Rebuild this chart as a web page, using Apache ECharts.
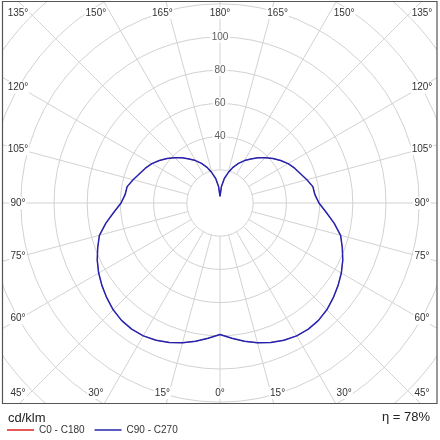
<!DOCTYPE html>
<html>
<head>
<meta charset="utf-8">
<script src="https://cdn.jsdelivr.net/npm/echarts@6/dist/echarts.min.js"></script>
<style>
html,body{margin:0;padding:0;background:#fff;}
#chart{width:440px;height:440px;}
</style>
</head>
<body>
<div id="chart"></div>
<script>
// Gamma angles (degrees from nadir) and luminous intensity (cd/klm)
const gammaAngles = [0,5,10,15,20,25,30,35,40,45,50,55,60,65,70,75,80,85,90,95,100,105,110,115,120,125,130,135,140,145,150,155,160,165,170,175,180];
const c90c270 = [79.2,81.8,84.6,87.2,89.4,91.2,92.4,92.8,92.3,91.0,89.0,86.8,84.4,81.6,78.4,75.2,69.8,64.2,59.6,57.4,56.8,54.2,51.6,49.6,47.4,44.6,41.7,38.6,35.5,32.4,29.5,26.3,22.9,18.8,15.0,10.0,4.0];
const c0c180  = [79.2,81.8,84.6,87.2,89.4,91.2,92.4,92.8,92.3,91.0,89.0,86.8,84.4,81.6,78.4,75.2,69.8,64.2,59.6,57.4,56.8,54.2,51.6,49.6,47.4,44.6,41.7,38.6,35.5,32.4,29.5,26.3,22.9,18.8,15.0,10.0,4.0];
const radiusTickLabels = [40,60,80,100];
const angleTickLabels = [-165,-150,-135,-120,-105,-90,-75,-60,-45,-30,-15,0,15,30,45,60,75,90,105,120,135,150,165,180];
const seriesNames = ['C0 - C180','C90 - C270'];
const unitText = 'cd/klm';
const etaText = '\u03b7 = 78%';

const CX = 220, CY = 203, PX_PER_UNIT = 1.66, R_MAX = 180;
const FONT = 'Liberation Sans, Arial, sans-serif';

function fullCurve(vals){
  const pts = [];
  for (let i = gammaAngles.length - 1; i >= 0; i--) pts.push([vals[i], -gammaAngles[i]]);
  for (let i = 1; i < gammaAngles.length; i++) pts.push([vals[i], gammaAngles[i]]);
  return pts;
}

const series = [];
// radial grid lines starting at the 20 circle
angleTickLabels.forEach(a => {
  series.push({
    type:'line', coordinateSystem:'polar', silent:true, symbol:'none', z:1,
    lineStyle:{color:'#d2d2d2', width:1}, data:[[20,a],[R_MAX,a]]
  });
});
series.push({
  name:seriesNames[0], type:'line', coordinateSystem:'polar', symbol:'none', z:3,
  color:'#dd2222', lineStyle:{color:'#dd2222', width:0.6}, data:fullCurve(c0c180)
});
series.push({
  name:seriesNames[1], type:'line', coordinateSystem:'polar', symbol:'none', z:4,
  color:'#2424b0', lineStyle:{color:'#2424b0', width:1.5}, data:fullCurve(c90c270)
});
series.push({
  type:'scatter', coordinateSystem:'polar', silent:true, z:5, symbolSize:1,
  itemStyle:{color:'rgba(0,0,0,0)'},
  label:{show:true, position:'inside', formatter:p => String(p.value[0]),
    color:'#333', fontFamily:FONT, fontSize:10, backgroundColor:'#fff', padding:[1,2]},
  data: radiusTickLabels.map(v => [v, 180])
});

function anglePos(a){
  const r = a*Math.PI/180, dx = Math.sin(r), dy = Math.cos(r);
  let x, y;
  if (Math.abs(dy) >= Math.abs(dx) - 1e-9) { y = dy > 0 ? 393 : 13; x = CX + dx/Math.abs(dy)*215; }
  else { x = dx > 0 ? 422 : 18; y = CY + dy/Math.abs(dx)*200; }
  x = Math.min(422, Math.max(18, x));
  y = Math.min(393, Math.max(13, y));
  return [x, y];
}

const graphic = [];
// white masks outside the frame
[[0,0,2.5,440],[437,0,3,440],[0,0,440,1.5],[0,403.5,440,36.5]].forEach(r => {
  graphic.push({type:'rect', z:100, silent:true, shape:{x:r[0],y:r[1],width:r[2],height:r[3]}, style:{fill:'#fff'}});
});
graphic.push({type:'rect', z:101, silent:true, shape:{x:2.5,y:1.5,width:434.5,height:402}, style:{fill:'none', stroke:'#555', lineWidth:1.2}});
angleTickLabels.forEach(a => {
  const p = anglePos(a);
  graphic.push({type:'text', z:102, x:p[0], y:p[1], style:{text:Math.abs(a)+'\u00b0', fill:'#333', font:'10px '+FONT, align:'center', verticalAlign:'middle', backgroundColor:'#fff', padding:[1,1]}});
});
graphic.push({type:'text', z:102, x:8, y:418, style:{text:unitText, fill:'#222', font:'13px '+FONT, align:'left', verticalAlign:'middle'}});
graphic.push({type:'text', z:102, x:430, y:417, style:{text:etaText, fill:'#222', font:'13px '+FONT, align:'right', verticalAlign:'middle'}});

const chart = echarts.init(document.getElementById('chart'), null, {renderer:'canvas'});
chart.setOption({
  animation:false,
  backgroundColor:'#fff',
  polar:{center:[CX,CY], radius:[0, R_MAX*PX_PER_UNIT]},
  angleAxis:{type:'value', min:-180, max:180, startAngle:90, clockwise:false,
    axisLine:{show:false}, axisTick:{show:false}, axisLabel:{show:false}, splitLine:{show:false}},
  radiusAxis:{type:'value', min:0, max:R_MAX, interval:20,
    axisLine:{show:false}, axisTick:{show:false}, axisLabel:{show:false},
    splitLine:{show:true, lineStyle:{color:'#d2d2d2', width:1}}},
  legend:{data:seriesNames, left:7, top:425, padding:0, z:200, selectedMode:false, icon:'rect',
    itemWidth:27, itemHeight:1.5, itemGap:10,
    textStyle:{fontFamily:FONT, fontSize:10, color:'#333'}},
  series:series,
  graphic:graphic
});
</script>
</body>
</html>
